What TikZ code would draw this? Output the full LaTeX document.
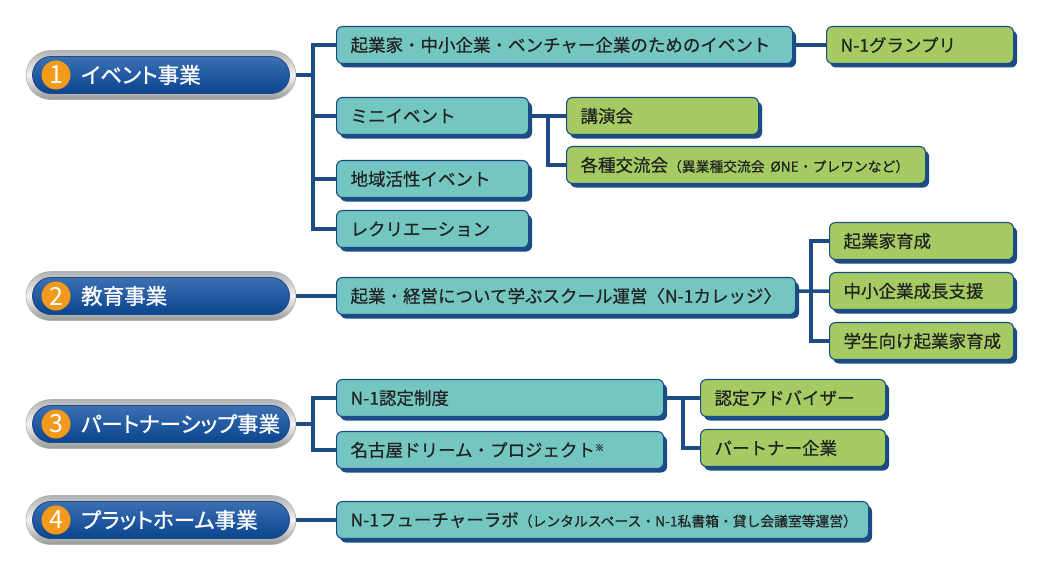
\documentclass[tikz,border=0pt]{standalone}
\usepackage{fontspec}
\setmainfont{Noto Sans CJK JP}[FakeBold=0.5]
\newfontfamily\palt[RawFeature=+palt,FakeBold=1]{Noto Sans CJK JP}
\newfontfamily\plain{Noto Sans CJK JP}
\usetikzlibrary{positioning}
\definecolor{dk}{HTML}{1B4C86}
\definecolor{pb}{HTML}{0B4C9F}
\definecolor{tl}{HTML}{74C6C0}
\definecolor{gr}{HTML}{A5CB62}
\definecolor{og}{HTML}{F29A1B}
\definecolor{ink}{HTML}{222222}
\newcommand\sm{\fontsize{13.8}{15}\selectfont}

\begin{document}
\begin{tikzpicture}[x=1pt,y=-1pt,font=\fontsize{17.5}{20}\selectfont,
  box/.style={draw=dk,line width=1.1pt,rounded corners=6pt,
    preaction={fill=dk,transform canvas={xshift=3.5pt,yshift=-4pt}},
    anchor=west,inner xsep=14pt,inner ysep=0pt,minimum height=37pt,
    text width=#1,align=left,text=ink},
  teal/.style={box=#1,fill=tl},
  green/.style={box=#1,fill=gr},
  pill/.style={rounded corners=24.5pt,minimum width=270pt,minimum height=49pt,
    draw=black!30,line width=.6pt,top color=black!30,bottom color=black!40,
    middle color=black!5,inner sep=0pt},
  pillin/.style={rounded corners=18.5pt,minimum width=257pt,minimum height=37pt,
    draw=dk,line width=.8pt,top color=pb!80!white,bottom color=pb!90!black,
    inner sep=0pt},
  num/.style={circle,fill=og,minimum size=29pt,inner sep=0pt,text=white,
    font=\plain\fontsize{25}{25}\selectfont},
  title/.style={anchor=west,text=white,inner sep=0pt,
    font=\palt\fontsize{21.5}{24}\selectfont},
  link/.style={draw=dk,line width=3.5pt}]
  \useasboundingbox[fill=white] (0,0) rectangle (1062,567);

  % categories
  \foreach \i/\y/\t in {1/75/イベント事業,2/296/教育事業,
      3/424/パートナーシップ事業,4/520/プラットホーム事業}{
    \node[pill] (p\i) at (161,\y) {};
    \node[pillin] (q\i) at (p\i.center) {};
    \node[num] (n\i) at (56,\y) {\i};
    \node[title] (t\i) at (81,\y) {\t};
  }

  % 1
  \node[teal=428pt] (evt) at (336,45) {起業家・中小企業・ベンチャー企業のためのイベント};
  \node[green=159pt] (gp) at (826,45) {N-1グランプリ};
  \node[teal=164pt] (mini) at (336,116) {ミニイベント};
  \node[green=164pt] (lect) at (566,116) {講演会};
  \node[green=331pt] (meet) at (566,165) {\mbox{各種交流会{\sm（異業種交流会 ØNE・プレワンなど）}}};
  \node[teal=164pt] (area) at (336,179) {地域活性イベント};
  \node[teal=164pt] (recr) at (336,229) {レクリエーション};
  % 2
  \node[teal=431pt] (school) at (336,296) {起業・経営について学ぶスクール運営〈N-1カレッジ〉};
  \node[green=156pt] (ent) at (829,241) {起業家育成};
  \node[green=156pt] (sme) at (829,291) {中小企業成長支援};
  \node[green=156pt] (stu) at (829,341) {学生向け起業家育成};
  % 3
  \node[teal=299pt] (cert) at (336,398) {N-1認定制度};
  \node[teal=299pt] (ndp) at (336,450) {名古屋ドリーム・プロジェクト\raisebox{.6ex}{\fontsize{9}{9}\selectfont ※}};
  \node[green=157pt] (adv) at (700,398) {認定アドバイザー};
  \node[green=157pt] (prt) at (700,448) {パートナー企業};
  % 4
  \node[teal=504pt] (lab) at (336,520) {\mbox{N-1フューチャーラボ{\sm（レンタルスペース・N-1私書箱・貸し会議室等運営）}}};

  \coordinate (j1) at (313,75);
  \coordinate (j2) at (548,116);
  \coordinate (j3) at (811,291);
  \coordinate (j4) at (313,424);
  \coordinate (j5) at (683,398);
  \draw[link] (p1) -- (j1);
  \draw[link] (j1) |- (evt); \draw[link] (j1) |- (mini);
  \draw[link] (j1) |- (area); \draw[link] (j1) |- (recr);
  \draw[link] (evt) -- (gp);
  \draw[link] (mini) -- (j2) -- (lect); \draw[link] (j2) |- (meet);
  \draw[link] (p2) -- (school);
  \draw[link] (school) -- (j3) -- (sme);
  \draw[link] (j3) |- (ent); \draw[link] (j3) |- (stu);
  \draw[link] (p3) -- (j4);
  \draw[link] (j4) |- (cert); \draw[link] (j4) |- (ndp);
  \draw[link] (cert) -- (j5) -- (adv); \draw[link] (j5) |- (prt);
  \draw[link] (p4) -- (lab);
\end{tikzpicture}
\end{document}
